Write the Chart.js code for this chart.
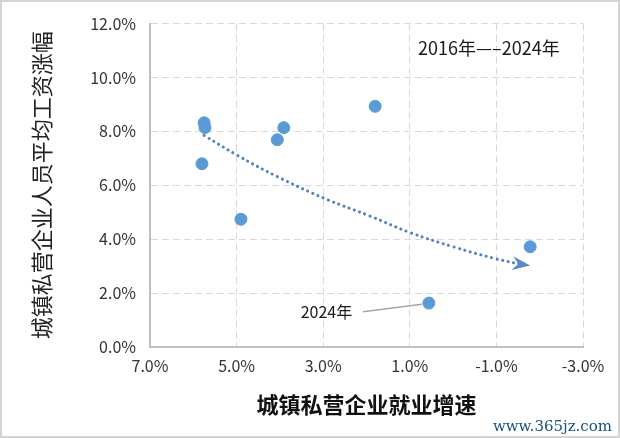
<!DOCTYPE html>
<html>
<head>
<meta charset="utf-8">
<script src="https://cdn.jsdelivr.net/npm/chart.js@4.4.1/dist/chart.umd.min.js"></script>
<style>
  html, body { margin: 0; padding: 0; background: #fff; }
  #wrap { width: 620px; height: 438px; position: relative; }
</style>
</head>
<body>
<div id="wrap"><canvas id="scatterChart" width="620" height="438"></canvas></div>
<script>
const employmentGrowth = [5.75, 5.73, 5.80, 4.90, 4.06, 3.91, 1.80, 0.56, -1.78];
const wageGrowth = [8.32, 8.14, 6.80, 4.74, 7.69, 8.14, 8.93, 1.63, 3.72];

const trendX = [5.75, 5.0, 4.07, 2.92, 1.92, 1.0, 0.0, -1.0, -1.6];
const trendY = [7.85, 7.13, 6.33, 5.48, 4.86, 4.25, 3.72, 3.27, 3.06];
const arrowTip = { x: -1.78, y: 3.02 };

const xTicks = [7, 5, 3, 1, -1, -3];
const yTicks = [0, 2, 4, 6, 8, 10, 12];

const FONT = '"Noto Sans CJK SC", "Noto Sans", sans-serif';

const extras = {
  id: 'extras',
  afterDatasetsDraw(chart) {
    const { ctx, scales: { x, y } } = chart;
    ctx.save();

    // arrow head at the end of the trend line
    const last = trendX.length - 1;
    const px = x.getPixelForValue(trendX[last]);
    const py = y.getPixelForValue(trendY[last]);
    const tx = x.getPixelForValue(arrowTip.x);
    const ty = y.getPixelForValue(arrowTip.y);
    const ang = Math.atan2(ty - py, tx - px);
    ctx.translate(tx, ty);
    ctx.rotate(ang);
    ctx.fillStyle = '#5a8ac6';
    ctx.beginPath();
    ctx.moveTo(0, 0);
    ctx.lineTo(-18, -7);
    ctx.lineTo(-12, 0);
    ctx.lineTo(-18, 7);
    ctx.closePath();
    ctx.fill();
    ctx.setTransform(1, 0, 0, 1, 0, 0);

    // 2024 callout
    ctx.strokeStyle = '#a6a6a6';
    ctx.lineWidth = 1.5;
    ctx.beginPath();
    ctx.moveTo(x.getPixelForValue(2.08), y.getPixelForValue(1.31));
    ctx.lineTo(x.getPixelForValue(0.72), y.getPixelForValue(1.59));
    ctx.stroke();

    ctx.fillStyle = '#1a1a1a';
    ctx.font = '16px ' + FONT;
    ctx.textAlign = 'right';
    ctx.textBaseline = 'middle';
    ctx.fillText('2024年', x.getPixelForValue(2.33), y.getPixelForValue(1.31));

    ctx.font = '18px ' + FONT;
    ctx.textAlign = 'left';
    ctx.fillText('2016年—–2024年', x.getPixelForValue(0.81), y.getPixelForValue(11.1));
    ctx.restore();
  },
  afterDraw(chart) {
    const { ctx, width, height } = chart;
    ctx.save();
    ctx.fillStyle = '#1f4e79';
    ctx.font = '15px "DejaVu Serif", serif';
    ctx.textAlign = 'right';
    ctx.textBaseline = 'middle';
    ctx.fillText('www.365jz.com', 612, 427);
    ctx.strokeStyle = '#d4d4d4';
    ctx.lineWidth = 2;
    ctx.strokeRect(1, 1, width - 2, height - 2);
    ctx.restore();
  }
};

new Chart(document.getElementById('scatterChart'), {
  type: 'scatter',
  data: {
    datasets: [
      {
        label: 'trend',
        type: 'line',
        data: trendX.map((v, i) => ({ x: v, y: trendY[i] })),
        borderColor: '#4f82bf',
        borderWidth: 3,
        borderDash: [0.1, 5.5],
        borderCapStyle: 'round',
        pointRadius: 0,
        fill: false,
        tension: 0.4,
        order: 2,
      },
      {
        label: 'points',
        data: employmentGrowth.map((v, i) => ({ x: v, y: wageGrowth[i] })),
        backgroundColor: '#5b9bd5',
        borderColor: '#5b9bd5',
        pointRadius: 6,
        order: 1,
      },
    ],
  },
  options: {
    responsive: false,
    animation: false,
    layout: { padding: { left: 0, right: 37, top: 21, bottom: 0 } },
    plugins: {
      legend: { display: false },
      tooltip: { enabled: false },
    },
    scales: {
      x: {
        type: 'linear',
        reverse: true,
        min: -3,
        max: 7,
        afterFit: (s) => { s.height = 91; },
        afterBuildTicks: (s) => { s.ticks = xTicks.map((v) => ({ value: v })); },
        ticks: {
          color: '#333',
          font: { family: FONT, size: 16 },
          padding: 9,
          callback: (v) => v.toFixed(1) + '%',
        },
        grid: { color: '#d9d9d9', drawTicks: false },
        border: { display: true, color: '#bfbfbf', width: 2, dash: [7, 4] },
        title: {
          display: true,
          text: '城镇私营企业就业增速',
          color: '#111',
          font: { family: FONT, size: 22, weight: 'bold' },
          padding: { top: 0, bottom: 20 },
        },
      },
      y: {
        min: 0,
        max: 12,
        afterFit: (s) => { s.width = 150; },
        afterBuildTicks: (s) => { s.ticks = yTicks.map((v) => ({ value: v })); },
        ticks: {
          color: '#333',
          font: { family: FONT, size: 16 },
          padding: 14,
          callback: (v) => v.toFixed(1) + '%',
        },
        grid: { color: '#d9d9d9', drawTicks: false },
        border: { display: true, color: '#bfbfbf', width: 2, dash: [7, 4] },
        title: {
          display: true,
          text: '城镇私营企业人员平均工资涨幅',
          color: '#222',
          font: { family: FONT, size: 22 },
          padding: { top: 28, bottom: 0 },
        },
      },
    },
  },
  plugins: [extras],
});
</script>
</body>
</html>
